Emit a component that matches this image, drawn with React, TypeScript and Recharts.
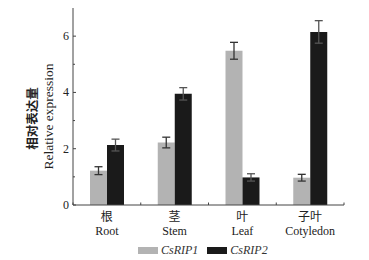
import { BarChart, Bar, XAxis, YAxis, Legend, ErrorBar } from 'recharts';

const tissuesZh = ['根', '茎', '叶', '子叶'];
const tissuesEn = ['Root', 'Stem', 'Leaf', 'Cotyledon'];
const rip1 = [1.22, 2.22, 5.48, 0.97];
const rip1Err = [0.14, 0.19, 0.3, 0.12];
const rip2 = [2.13, 3.95, 0.98, 6.15];
const rip2Err = [0.21, 0.22, 0.13, 0.4];
const seriesNames = ['CsRIP1', 'CsRIP2'];
const seriesColors = ['#b3b3b3', '#1a1a1a'];
const yTicks = [0, 1, 2, 3, 4, 5, 6];

const data = tissuesEn.map((en, i) => ({
  en,
  zh: tissuesZh[i],
  rip1: rip1[i],
  rip1Err: rip1Err[i],
  rip2: rip2[i],
  rip2Err: rip2Err[i],
}));

const SERIF = '"Liberation Serif", "Times New Roman", "Noto Sans CJK SC", serif';
const INK = '#222';

const YTick = (props: any) => {
  const { x, y, payload } = props;
  const major = payload.value % 2 === 0;
  return (
    <g>
      <line x1={x} x2={x + (major ? 3 : 2)} y1={y} y2={y} stroke="#444" />
      {major && (
        <text x={x - 4} y={y + 4} textAnchor="end" fontSize={12} fontFamily={SERIF} fill={INK}>
          {payload.value}
        </text>
      )}
    </g>
  );
};

const XTick = (props: any) => {
  const { x, y, payload, index } = props;
  const half = payload.offset || 0;
  const row = data[index] || data[0];
  return (
    <g>
      <line x1={x - half} x2={x - half} y1={y} y2={y - 2.5} stroke="#444" />
      {index === data.length - 1 && (
        <line x1={x + half} x2={x + half} y1={y} y2={y - 2.5} stroke="#444" />
      )}
      <text x={x} y={y + 16} textAnchor="middle" fontSize={12} fontFamily={SERIF} fill={INK}>
        {row.zh}
      </text>
      <text x={x} y={y + 30} textAnchor="middle" fontSize={12} fontFamily={SERIF} fill={INK}>
        {row.en}
      </text>
    </g>
  );
};

// two-line rotated axis title, Chinese above English
const YLabel = (props: any) => {
  const { viewBox } = props;
  const cy = viewBox.y + viewBox.height / 2 + 11;
  return (
    <g fontFamily={SERIF} fill={INK}>
      <text x={37} y={cy + 1} fontSize={12.5} fontWeight={600} textAnchor="middle" transform={`rotate(-90 37 ${cy + 1})`}>
        相对表达量
      </text>
      <text x={52.5} y={cy - 1} fontSize={13.5} textAnchor="middle" transform={`rotate(-90 52.5 ${cy - 1})`}>
        Relative expression
      </text>
    </g>
  );
};

const LegendBox = () => (
  <div style={{ display: 'flex', alignItems: 'center', height: 14, fontFamily: SERIF, fontSize: 12, fontStyle: 'italic', color: '#333' }}>
    {seriesNames.map((name, i) => (
      <div key={name} style={{ display: 'flex', alignItems: 'center', marginRight: 9 }}>
        <span style={{ display: 'inline-block', width: 20, height: 7, background: seriesColors[i], marginRight: 3 }} />
        <span>{name}</span>
      </div>
    ))}
  </div>
);

export default function App() {
  return (
    <div style={{ position: 'absolute', left: 0, top: 0, width: 369, height: 260, background: '#fff' }}>
      <BarChart width={369} height={260} data={data} margin={{ top: 8, right: 25, left: 0, bottom: 3 }} barGap={0}>
        <XAxis
          dataKey="en"
          height={38}
          stroke="#444"
          tickLine={false}
          tickSize={0}
          tickMargin={0}
          tick={<XTick />}
          interval={0}
        />
        <YAxis
          width={73}
          domain={[0, 7]}
          ticks={yTicks}
          stroke="#444"
          tickLine={false}
          tickSize={0}
          tickMargin={0}
          tick={<YTick />}
          label={{ content: <YLabel /> }}
        />
        <Legend
          verticalAlign="bottom"
          content={<LegendBox />}
          wrapperStyle={{ left: 138, width: 150, height: 14, bottom: 3 }}
        />
        <Bar dataKey="rip1" name={seriesNames[0]} fill={seriesColors[0]} barSize={17} isAnimationActive={false}>
          <ErrorBar dataKey="rip1Err" width={4} stroke="#333" strokeWidth={1.3} />
        </Bar>
        <Bar dataKey="rip2" name={seriesNames[1]} fill={seriesColors[1]} barSize={17} isAnimationActive={false}>
          <ErrorBar dataKey="rip2Err" width={4} stroke="#555" strokeWidth={1.3} />
        </Bar>
      </BarChart>
    </div>
  );
}
